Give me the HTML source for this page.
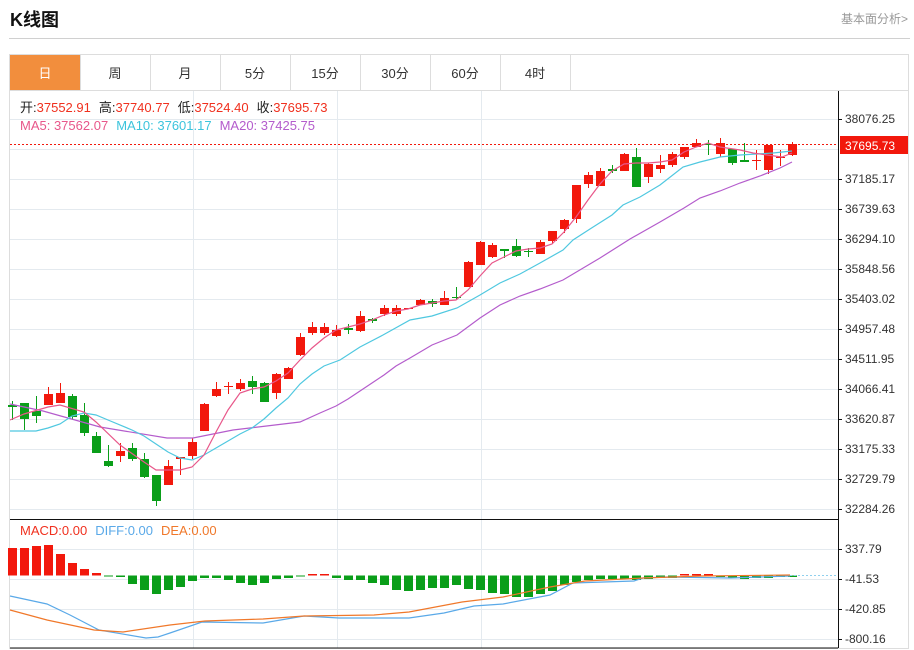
<!DOCTYPE html>
<html><head><meta charset="utf-8"><style>
body{margin:0;background:#fff;width:914px;height:650px;overflow:hidden;font-family:"Liberation Sans","Noto Sans CJK SC",sans-serif;}
.t{position:absolute;}
</style></head><body>
<div class="t" style="left:10px;top:6px;font-size:18px;font-weight:bold;color:#111;">K线图</div>
<div class="t" style="left:841px;top:10px;font-size:12px;color:#999;">基本面分析&gt;</div>
<div class="t" style="left:9px;top:38px;width:901px;height:1px;background:#d0d0d0;"></div>
<svg class="t" style="left:0;top:0" width="914" height="650" font-family="Liberation Sans, Noto Sans CJK SC, sans-serif">
<!-- frame -->
<rect x="9.5" y="54.5" width="899" height="594" fill="none" stroke="#ddd"/>
<line x1="9" y1="90.5" x2="909" y2="90.5" stroke="#ddd"/>
<rect x="10" y="55" width="70" height="35" fill="#f28e3d"/>
<g stroke="#ddd"><line x1="80.5" y1="55" x2="80.5" y2="90"/><line x1="150.5" y1="55" x2="150.5" y2="90"/><line x1="220.5" y1="55" x2="220.5" y2="90"/><line x1="290.5" y1="55" x2="290.5" y2="90"/><line x1="360.5" y1="55" x2="360.5" y2="90"/><line x1="430.5" y1="55" x2="430.5" y2="90"/><line x1="500.5" y1="55" x2="500.5" y2="90"/><line x1="570.5" y1="55" x2="570.5" y2="90"/></g>
<g font-size="13" text-anchor="middle" fill="#333"><text x="45" y="78" fill="#fff">日</text><text x="115" y="78">周</text><text x="185" y="78">月</text><text x="255" y="78">5分</text><text x="325" y="78">15分</text><text x="395" y="78">30分</text><text x="465" y="78">60分</text><text x="535" y="78">4时</text></g>
<!-- grid -->
<g stroke="#e4eaef" stroke-width="1">
<line x1="10" y1="119.5" x2="838" y2="119.5"/><line x1="10" y1="149.5" x2="838" y2="149.5"/><line x1="10" y1="179.5" x2="838" y2="179.5"/><line x1="10" y1="209.5" x2="838" y2="209.5"/><line x1="10" y1="239.5" x2="838" y2="239.5"/><line x1="10" y1="269.5" x2="838" y2="269.5"/><line x1="10" y1="299.5" x2="838" y2="299.5"/><line x1="10" y1="329.5" x2="838" y2="329.5"/><line x1="10" y1="359.5" x2="838" y2="359.5"/><line x1="10" y1="389.5" x2="838" y2="389.5"/><line x1="10" y1="419.5" x2="838" y2="419.5"/><line x1="10" y1="449.5" x2="838" y2="449.5"/><line x1="10" y1="479.5" x2="838" y2="479.5"/><line x1="10" y1="509.5" x2="838" y2="509.5"/>
<line x1="193.5" y1="91" x2="193.5" y2="648"/><line x1="337.5" y1="91" x2="337.5" y2="648"/><line x1="481.5" y1="91" x2="481.5" y2="648"/>
<line x1="10" y1="549.5" x2="838" y2="549.5"/><line x1="10" y1="579.5" x2="838" y2="579.5"/><line x1="10" y1="609.5" x2="838" y2="609.5"/><line x1="10" y1="639.5" x2="838" y2="639.5"/>
</g>
<line x1="10" y1="519.5" x2="838" y2="519.5" stroke="#111"/>
<line x1="10" y1="648" x2="838" y2="648" stroke="#111"/>
<line x1="838.5" y1="91" x2="838.5" y2="648" stroke="#111"/>
<!-- legend -->
<g font-size="13">
<text x="20" y="112"><tspan fill="#222">开:</tspan><tspan fill="#f0301e">37552.91</tspan><tspan fill="#222" dx="8">高:</tspan><tspan fill="#f0301e">37740.77</tspan><tspan fill="#222" dx="8">低:</tspan><tspan fill="#f0301e">37524.40</tspan><tspan fill="#222" dx="8">收:</tspan><tspan fill="#f0301e">37695.73</tspan></text>
<text x="20" y="130"><tspan fill="#e8578a">MA5: 37562.07</tspan><tspan fill="#3cc4dc" dx="8">MA10: 37601.17</tspan><tspan fill="#b45ccc" dx="8">MA20: 37425.75</tspan></text>
<text x="20" y="535"><tspan fill="#f0301e">MACD:0.00</tspan><tspan fill="#5aa9e8" dx="8">DIFF:0.00</tspan><tspan fill="#f0782a" dx="8">DEA:0.00</tspan></text>
</g>
<!-- axis labels -->
<g font-size="12" fill="#333" stroke="none">
<text x="845" y="123">38076.25</text><text x="845" y="183">37185.17</text><text x="845" y="213">36739.63</text><text x="845" y="243">36294.10</text><text x="845" y="273">35848.56</text><text x="845" y="303">35403.02</text><text x="845" y="333">34957.48</text><text x="845" y="363">34511.95</text><text x="845" y="393">34066.41</text><text x="845" y="423">33620.87</text><text x="845" y="453">33175.33</text><text x="845" y="483">32729.79</text><text x="845" y="513">32284.26</text>
<text x="845" y="553">337.79</text><text x="845" y="583">-41.53</text><text x="845" y="613">-420.85</text><text x="845" y="643">-800.16</text>
</g>
<g stroke="#111"><line x1="838" y1="119.5" x2="842" y2="119.5"/><line x1="838" y1="179.5" x2="842" y2="179.5"/><line x1="838" y1="209.5" x2="842" y2="209.5"/><line x1="838" y1="239.5" x2="842" y2="239.5"/><line x1="838" y1="269.5" x2="842" y2="269.5"/><line x1="838" y1="299.5" x2="842" y2="299.5"/><line x1="838" y1="329.5" x2="842" y2="329.5"/><line x1="838" y1="359.5" x2="842" y2="359.5"/><line x1="838" y1="389.5" x2="842" y2="389.5"/><line x1="838" y1="419.5" x2="842" y2="419.5"/><line x1="838" y1="449.5" x2="842" y2="449.5"/><line x1="838" y1="479.5" x2="842" y2="479.5"/><line x1="838" y1="509.5" x2="842" y2="509.5"/><line x1="838" y1="549.5" x2="842" y2="549.5"/><line x1="838" y1="579.5" x2="842" y2="579.5"/><line x1="838" y1="609.5" x2="842" y2="609.5"/><line x1="838" y1="639.5" x2="842" y2="639.5"/></g>
<rect x="840" y="136" width="68" height="18" fill="#f2180c"/>
<text x="845" y="150" font-size="12" fill="#fff">37695.73</text>
<line x1="10" y1="144.5" x2="838" y2="144.5" stroke="#f2180c" stroke-dasharray="2,2"/>
<!-- candles -->
<g id="c"></g>
<!-- MA lines -->
<polyline fill="none" stroke="#b45ccc" stroke-width="1.2" points="10,404 43,411 100,427 167,438 193,438 233,430 300,422 320,413 336,406 348,399 360,391 372,383 384,375 396,366 410,358 432,345 457,335 480,318 500,305 520,296 540,289 563,280 600,258 630,239 660,222 684,208 700,198 720,191 740,183 760,176 780,168 792,162"/>
<polyline fill="none" stroke="#4fc8e0" stroke-width="1.2" points="10,431 36,431 48,428 60,424 72,416 84,413 96,415 108,420 132,430 144,436 156,444 168,452 180,458 192,460 204,455 216,448 228,441 240,434 252,428 264,419 276,408 288,398 300,384 312,374 324,366 340,360 360,347 383,335 410,320 432,316 457,308 480,295 500,283 520,274 540,263 563,250 573,240 590,229 612,215 623,205 640,197 660,185 683,167 700,162 720,157 740,155 773,153 792,151"/>
<polyline fill="none" stroke="#e8578a" stroke-width="1.2" points="10,420 24,414 48,407 60,405 84,412 96,422 120,445 144,462 156,470 180,470 192,467 204,455 216,432 228,410 240,393 252,389 264,387 276,381 288,373 300,360 312,348 324,338 336,330 348,327 360,324 372,320 384,315 396,311 408,309 420,305 432,303 444,301 456,300 468,290 480,276 492,263 504,257 516,251 528,249 540,248 552,244 564,232 576,217 588,200 600,184 612,171 624,164 636,163 648,163 660,162 672,160 684,152 696,147 708,143 720,147 740,150 753,153 767,155 782,157 792,153"/>
<!-- MACD bars -->
<g id="m"></g>
<line x1="790" y1="575.5" x2="838" y2="575.5" stroke="#8fd0ee" stroke-dasharray="2,2"/>
<polyline fill="none" stroke="#5aa9e8" stroke-width="1.2" points="10,596 47,604 70,615 99,630 146,638 158,637 170,633 202,622 263,623 304,616 339,618 409,618 444,613 474,606 503,604 550,595 573,583 634,581 643,578 667,577 731,578 760,577 790,576"/>
<polyline fill="none" stroke="#f0782a" stroke-width="1.2" points="10,610 47,620 94,630 123,632 170,625 205,621 263,619 304,616 374,615 409,612 462,602 503,597 550,587 585,581 643,578 702,576 790,575"/>
</svg>
<script>
var C=[
[12,'g',405,407,401,420],[24,'g',403,419,403,430],[36,'g',411,416,396,423],[48,'r',394,405,387,405],[60,'r',393,403,383,403],[72,'g',396,417,394,420],[84,'g',415,433,403,436],[96,'g',436,453,432,453],[108,'g',461,466,445,467],[120,'r',451,456,443,462],[132,'g',448,459,443,461],[144,'g',459,477,453,478],[156,'g',475,501,475,506],[168,'r',466,485,460,485],[180,'r',457,459,457,475],[192,'r',442,456,438,459],[204,'r',404,431,403,431],[216,'r',389,396,382,397],[228,'r',386,387,382,394],[240,'r',383,389,379,391],[252,'g',381,387,376,394],[264,'g',383,402,382,402],[276,'r',374,393,373,399],[288,'r',368,379,367,379],[300,'r',337,355,333,356],[312,'r',327,333,322,335],[324,'r',327,333,323,335],[336,'r',330,336,325,337],[348,'g',328,330,324,334],[360,'r',316,331,311,332],[372,'g',319,321,318,323],[384,'r',308,314,305,316],[396,'r',308,314,305,316],[408,'r',308,309,308,309],[420,'r',300,305,299,305],[432,'g',301,304,299,307],[444,'r',298,305,291,305],[456,'g',297,298,287,300],[468,'r',262,287,261,287],[480,'r',242,265,241,265],[492,'r',245,257,243,258],[504,'g',249,251,249,258],[516,'g',246,256,239,257],[528,'g',251,252,248,257],[540,'r',242,254,240,254],[552,'r',231,241,231,244],[564,'r',220,229,219,233],[576,'r',185,219,185,223],[588,'r',175,184,172,188],[600,'r',171,186,168,186],[612,'g',169,171,165,173],[624,'r',154,171,153,171],[636,'g',157,187,148,187],[648,'r',164,177,163,183],[660,'r',165,169,155,173],[672,'r',154,165,152,167],[684,'r',147,157,147,159],[696,'r',143,147,139,147],[708,'g',144,145,140,155],[720,'r',143,154,138,157],[732,'g',149,163,149,165],[744,'g',160,162,143,162],[756,'r',160,161,150,170],[768,'r',145,170,145,174],[780,'r',157,158,150,166],[792,'r',144,155,142,156]];
var s='';C.forEach(function(c){var col=c[1]=='r'?'#f2180c':'#0a9e19';var x=c[0]+0.5;
s+='<line x1="'+x+'" y1="'+c[4]+'" x2="'+x+'" y2="'+c[5]+'" stroke="'+col+'"/>';
s+='<rect x="'+(c[0]-4)+'" y="'+c[2]+'" width="9" height="'+Math.max(1,c[3]-c[2])+'" fill="'+col+'"/>';});
document.getElementById('c').innerHTML=s;
var M=[548,548,546,545,554,563,569,573,576,577,584,590,594,590,587,581,578,578,580,583,585,583,579,578,576,574,574,578,580,580,583,585,590,591,590,588,588,585,589,590,593,594,597,597,594,591,585,582,580,579,579,579,580,579,578,578,574,574,574,577,578,579,578,578,577,577];
var z=575.5,t='';M.forEach(function(v,i){var x=12+12*i-4;var r=v<z;var y=r?v:z;var h=Math.max(1,Math.abs(v-z));
t+='<rect x="'+x+'" y="'+y+'" width="9" height="'+h+'" fill="'+(r?'#f2180c':'#0a9e19')+'"/>';});
document.getElementById('m').innerHTML=t;
</script>
</body></html>
